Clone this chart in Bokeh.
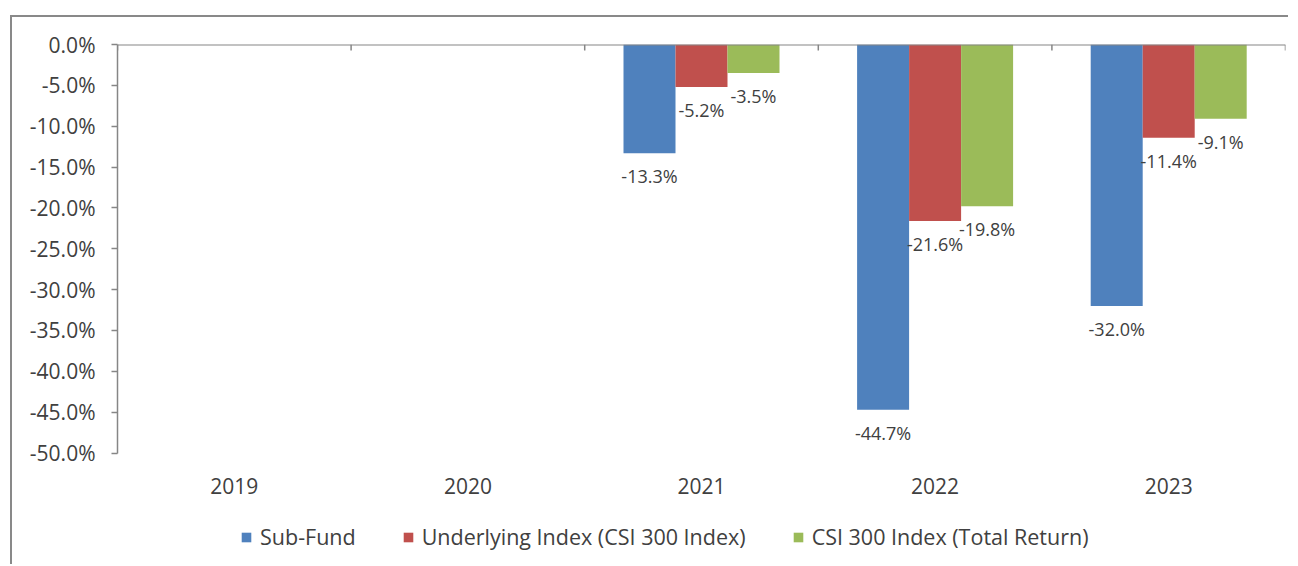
from bokeh.plotting import figure
from bokeh.models import (Range1d, FixedTicker, PrintfTickFormatter, Span,
                          ColumnDataSource, Legend, LegendItem)
from bokeh.core.properties import value
from bokeh.embed import file_html
from bokeh.resources import INLINE

years = ["2019", "2020", "2021", "2022", "2023"]
sub_fund = [None, None, -13.3, -44.7, -32.0]
underlying = [None, None, -5.2, -21.6, -11.4]
csi_total = [None, None, -3.5, -19.8, -9.1]
series_names = ["Sub-Fund", "Underlying Index (CSI 300 Index)", "CSI 300 Index (Total Return)"]
series_colors = ["#4F81BD", "#C0504D", "#9BBB59"]
y_ticks = [0, -5, -10, -15, -20, -25, -30, -35, -40, -45, -50]
Y_MIN = -50

FONT = "Open Sans"
TEXT = "#404040"
AXIS = "#868686"
BAR_W = 0.2226
TICK_LEN = 0.73          # boundary tick length in value units (~6px)
AXIS_PX = 408.5          # pixel height of the 0..-50 value axis
FRAME_H = 516            # frame extends below the axis to hold labels & legend
y_start = Y_MIN * FRAME_H / AXIS_PX

p = figure(frame_width=1168, frame_height=FRAME_H,
           x_range=Range1d(0, len(years)), y_range=Range1d(y_start, 0),
           output_backend="svg", toolbar_location=None,
           min_border_left=105, min_border_right=3, min_border_top=27, min_border_bottom=4)
p.styles = {"position": "relative", "left": "10px", "top": "15px",
            "border-left": "2px solid #898989", "border-top": "2px solid #898989"}
p.xgrid.visible = False
p.ygrid.visible = False
p.outline_line_color = None

# category axis (labels only), sitting at the bottom of the value axis
xa = p.xaxis[0]
xa.fixed_location = Y_MIN
xa.ticker = FixedTicker(ticks=[i + 0.5 for i in range(len(years))])
xa.major_label_overrides = {i + 0.5: y for i, y in enumerate(years)}
xa.axis_line_color = None
xa.major_tick_line_color = None
xa.minor_tick_line_color = None
xa.major_label_standoff = 19
xa.major_label_text_font = FONT
xa.major_label_text_font_size = "21px"
xa.major_label_text_color = TEXT

# value axis
ya = p.yaxis[0]
ya.bounds = (Y_MIN, 0)
ya.ticker = FixedTicker(ticks=y_ticks)
ya.formatter = PrintfTickFormatter(format="%.1f%%")
ya.axis_line_color = AXIS
ya.axis_line_width = 1.5
ya.major_tick_line_color = AXIS
ya.major_tick_line_width = 1.5
ya.major_tick_out = 6
ya.major_tick_in = 0
ya.minor_tick_line_color = None
ya.major_label_standoff = 16
ya.major_label_text_font = FONT
ya.major_label_text_font_size = "21px"
ya.major_label_text_color = TEXT

# 0% line with category boundary ticks
p.add_layout(Span(location=0, dimension="width", line_color=AXIS, line_width=2))
bounds = list(range(len(years) + 1))
p.segment(x0=bounds, y0=[0] * len(bounds), x1=bounds, y1=[-TICK_LEN] * len(bounds),
          line_color=AXIS, line_width=1.5)

items = []
for k, (vals, name, color) in enumerate(zip([sub_fund, underlying, csi_total], series_names, series_colors)):
    xs, ys, labels = [], [], []
    for i, v in enumerate(vals):
        if v is None:
            continue
        xs.append(i + 0.5 + (k - 1) * BAR_W)
        ys.append(v)
        labels.append("%.1f%%" % v)
    src = ColumnDataSource(dict(x=xs, top=ys, label=labels))
    r = p.vbar(x="x", top="top", bottom=0, width=BAR_W, source=src,
               fill_color=color, line_color=None)
    p.text(x="x", y="top", text="label", source=src, text_align="center",
           text_baseline="middle", y_offset=23, text_font=value(FONT),
           text_font_size="18px", text_color=TEXT)
    items.append(LegendItem(label=name, renderers=[r]))

legend = Legend(items=items, orientation="horizontal", location=(123, 9),
                label_text_font=FONT, label_text_font_size="21.5px", label_text_color=TEXT,
                glyph_width=12, glyph_height=12, label_standoff=8, spacing=46,
                border_line_color=None, background_fill_alpha=0, margin=0, padding=3)
p.add_layout(legend, "center")

open("out.html", "w").write(file_html(p, INLINE))
